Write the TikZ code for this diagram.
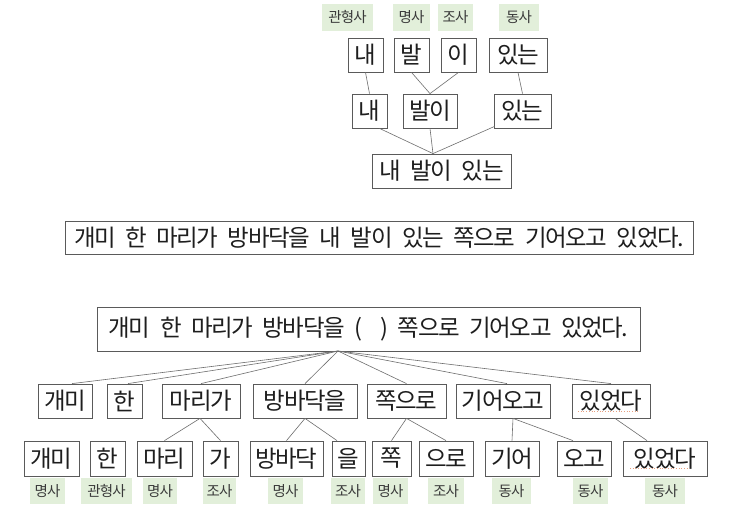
\documentclass[tikz,border=0pt]{standalone}
\usepackage{fontspec}
\newfontfamily\kr[LetterSpace=-6,WordSpace=2]{Noto Sans CJK KR}
\definecolor{boxc}{HTML}{5A5A5A}
\definecolor{linec}{HTML}{6E6E6E}
\definecolor{tagc}{HTML}{E2EFDA}
\definecolor{tagtxt}{HTML}{3A3A3A}
\definecolor{txt}{HTML}{1E1E1E}
\definecolor{spell}{HTML}{E8A080}
\newcommand{\ws}{\hspace{9.5pt}}
\begin{document}
\begin{tikzpicture}[x=1pt,y=-1pt,
  box/.style={draw=boxc, line width=0.8pt, inner sep=0pt, minimum height=34pt, text=txt,
    font=\kr\fontsize{23.5}{24}\selectfont},
  tag/.style={fill=tagc, inner sep=0pt, minimum height=27pt, text=tagtxt,
    font=\kr\fontsize{14.5}{15}\selectfont},
  link/.style={draw=linec, line width=0.6pt},
  spellmark/.style={draw=spell, line width=0.7pt, dotted}]
\useasboundingbox (0,0) rectangle (740,513);
\fill[white] (0,0) rectangle (740,513);

% ---------- top tree ----------
\node[tag, minimum width=51pt] (t1) at (347.5,17.5) {관형사};
\node[tag, minimum width=37pt] (t2) at (411.5,17.5) {명사};
\node[tag, minimum width=35pt] (t3) at (455.5,17.5) {조사};
\node[tag, minimum width=40pt] (t4) at (519,17.5) {동사};

\node[box, minimum width=35pt] (a1) at (365.5,55) {내};
\node[box, minimum width=35pt] (a2) at (411.5,55) {발};
\node[box, minimum width=35pt] (a3) at (458.5,55) {이};
\node[box, minimum width=58pt] (a4) at (518,55) {있는};

\node[box, minimum width=35pt] (b1) at (369.5,111) {내};
\node[box, minimum width=54pt] (b2) at (430,111) {발이};
\node[box, minimum width=57pt] (b3) at (522.5,111) {있는};

\node[box, minimum width=139pt] (c1) at (441.5,171) {내\ws 발이\ws 있는};
\coordinate (cj) at ([xshift=-8.5pt]c1.north);

\draw[link] (a1.south) -- (b1.north);
\draw[link] (a2.south) -- (b2.north);
\draw[link] (a3.south) -- (b2.north);
\draw[link] (a4.south) -- (b3.north);
\draw[link] ([xshift=10pt]b1.south) -- (cj);
\draw[link] (b2.south) -- (cj);
\draw[link] ([xshift=1pt,yshift=2pt]b3.south west) -- (cj);

% ---------- middle sentence ----------
\node[box, minimum width=628pt, minimum height=33pt] (m) at (379,237.5)
  {개미\ws 한\ws 마리가\ws 방바닥을\ws 내\ws 발이\ws 있는\ws 쪽으로\ws 기어오고\ws 있었다.};

% ---------- bottom tree ----------
\node[box, minimum width=543pt, minimum height=44pt] (d0) at (368.5,329)
  {개미\ws 한\ws 마리가\ws 방바닥을\ws (\hspace{18pt})\ws 쪽으로\ws 기어오고\ws 있었다.};
\coordinate (dj) at (338,351);

\node[box, minimum width=54pt] (e1) at (65,401) {개미};
\node[box, minimum width=35pt] (e2) at (124.5,401) {한};
\node[box, minimum width=78pt] (e3) at (201,401) {마리가};
\node[box, minimum width=104pt] (e4) at (305,401) {방바닥을};
\node[box, minimum width=79pt] (e5) at (406.5,401) {쪽으로};
\node[box, minimum width=94pt] (e6) at (503,401) {기어오고};
\node[box, minimum width=78pt] (e7) at (611,401) {있었다};

\draw[link] (dj) -- ([xshift=7pt]e1.north);
\draw[link] (dj) -- ([xshift=3.5pt]e2.north);
\draw[link] (dj) -- (e3.north);
\draw[link] (dj) -- (e4.north);
\draw[link] (dj) -- (e5.north);
\draw[link] (dj) -- ([xshift=4pt]e6.north);
\draw[link] (dj) -- (e7.north);

\node[box, minimum width=55pt, minimum height=35pt] (f1) at (51.5,458.5) {개미};
\node[box, minimum width=35pt, minimum height=35pt] (f2) at (107.5,458.5) {한};
\node[box, minimum width=55pt, minimum height=35pt] (f3) at (164.5,458.5) {마리};
\node[box, minimum width=35pt, minimum height=35pt] (f4) at (220.5,458.5) {가};
\node[box, minimum width=73pt, minimum height=35pt] (f5) at (286.5,458.5) {방바닥};
\node[box, minimum width=33pt, minimum height=35pt] (f6) at (348.5,458.5) {을};
\node[box, minimum width=39pt, minimum height=35pt] (f7) at (391.5,458.5) {쪽};
\node[box, minimum width=54pt, minimum height=35pt] (f8) at (446,458.5) {으로};
\node[box, minimum width=54pt, minimum height=35pt] (f9) at (512,458.5) {기어};
\node[box, minimum width=54pt, minimum height=35pt] (f10) at (584,458.5) {오고};
\node[box, minimum width=84pt, minimum height=35pt] (f11) at (665,458.5) {있었다};

\draw[link] ([xshift=-1pt]e3.south) -- (f3.north);
\draw[link] ([xshift=-1pt]e3.south) -- (f4.north);
\draw[link] (e4.south) -- (f5.north);
\draw[link] (e4.south) -- ([xshift=-11.5pt]f6.north);
\draw[link] (e5.south) -- (f7.north);
\draw[link] (e5.south) -- (f8.north);
\draw[link] ([xshift=10pt]e6.south) -- (f9.north);
\draw[link] ([xshift=10pt]e6.south) -- ([xshift=-11pt]f10.north);
\draw[link] ([xshift=4pt]e7.south) -- ([xshift=-18pt]f11.north);

\coordinate (s1a) at (578,411); \coordinate (s1b) at (638,411);
\draw[spellmark] (s1a) -- (s1b);
\coordinate (s2a) at (630,468); \coordinate (s2b) at (688,468);
\draw[spellmark] (s2a) -- (s2b);

\node[tag, minimum width=35pt, minimum height=26pt] (g1) at (47.5,491) {명사};
\node[tag, minimum width=51pt, minimum height=26pt] (g2) at (106.5,491) {관형사};
\node[tag, minimum width=34pt, minimum height=26pt] (g3) at (160,491) {명사};
\node[tag, minimum width=33pt, minimum height=26pt] (g4) at (219.5,491) {조사};
\node[tag, minimum width=35pt, minimum height=26pt] (g5) at (285.5,491) {명사};
\node[tag, minimum width=34pt, minimum height=26pt] (g6) at (348,491) {조사};
\node[tag, minimum width=35pt, minimum height=26pt] (g7) at (390.5,491) {명사};
\node[tag, minimum width=36pt, minimum height=26pt] (g8) at (446,491) {조사};
\node[tag, minimum width=39pt, minimum height=26pt] (g9) at (511.5,491) {동사};
\node[tag, minimum width=35pt, minimum height=26pt] (g10) at (590.5,491) {동사};
\node[tag, minimum width=40pt, minimum height=26pt] (g11) at (665,491) {동사};
\end{tikzpicture}
\end{document}
